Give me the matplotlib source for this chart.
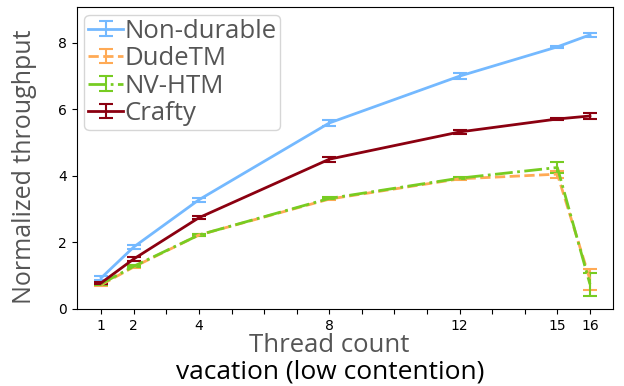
import matplotlib
matplotlib.use("Agg")
import matplotlib.pyplot as plt
from matplotlib.legend_handler import HandlerErrorbar
from matplotlib.container import ErrorbarContainer

threads = [1, 2, 4, 8, 12, 15, 16]
tick_labels = ["1", "2", "4", "8", "12", "15", "16"]

nondurable = [0.93, 1.86, 3.28, 5.59, 7.00, 7.88, 8.24]
nondurable_err = [0.06, 0.05, 0.06, 0.08, 0.08, 0.04, 0.06]
dudetm = [0.72, 1.26, 2.22, 3.30, 3.91, 4.05, 0.88]
dudetm_err = [0.03, 0.03, 0.03, 0.03, 0.03, 0.11, 0.32]
nvhtm = [0.75, 1.28, 2.22, 3.32, 3.93, 4.25, 0.74]
nvhtm_err = [0.03, 0.03, 0.03, 0.03, 0.03, 0.17, 0.34]
crafty = [0.78, 1.50, 2.74, 4.50, 5.32, 5.71, 5.80]
crafty_err = [0.04, 0.05, 0.05, 0.07, 0.05, 0.03, 0.10]

fig = plt.figure(figsize=(6.24, 3.86), dpi=100)
ax = fig.add_axes([0.123, 0.2, 0.859, 0.782])

label_font = "Open Sans"
gray = "#555555"
fs = 18.5

series = [
    ("Non-durable", nondurable, nondurable_err, "#74b9ff", "-"),
    ("DudeTM", dudetm, dudetm_err, "#ffaa55", "--"),
    ("NV-HTM", nvhtm, nvhtm_err, "#77cc22", "-."),
    ("Crafty", crafty, crafty_err, "#8b0010", "-"),
]
for name, vals, err, col, ls in series:
    eb = ax.errorbar(threads, vals, yerr=err, color=col, linestyle=ls,
                     linewidth=2, capsize=5, elinewidth=1.5, capthick=1.5,
                     label=name)
    eb[-1][0].set_linestyle("-")

ax.set_xlim(0.25, 16.7)
ax.set_ylim(0, 9.08)
ax.set_xticks(range(1, 17))
ax.set_xticklabels([str(k) if str(k) in tick_labels else "" for k in range(1, 17)])
ax.set_yticks([0, 2, 4, 6, 8])
ax.tick_params(labelsize=10)

ax.set_ylabel("Normalized throughput", fontsize=fs - 0.5, color=gray,
              fontfamily=label_font)
ax.yaxis.set_label_coords(-0.075, 0.47)
fig.text(329 / 624, 1 - 345 / 386, "Thread count", fontsize=fs, color=gray,
         ha="center", va="center", fontfamily=label_font)
fig.text(330 / 624, 1 - 372 / 386, "vacation (low contention)", fontsize=fs + 0.5,
         color="black", ha="center", va="center", fontfamily=label_font)

leg = ax.legend(loc="upper left", prop={"family": label_font, "size": fs},
                handlelength=1.35, handletextpad=0.05, labelspacing=0.1,
                borderpad=0.15, borderaxespad=0.3, frameon=True,
                handler_map={ErrorbarContainer: HandlerErrorbar(xerr_size=0.3, yerr_size=0.28)})
for t in leg.get_texts():
    t.set_color(gray)

fig.savefig("out.png", dpi=100)
